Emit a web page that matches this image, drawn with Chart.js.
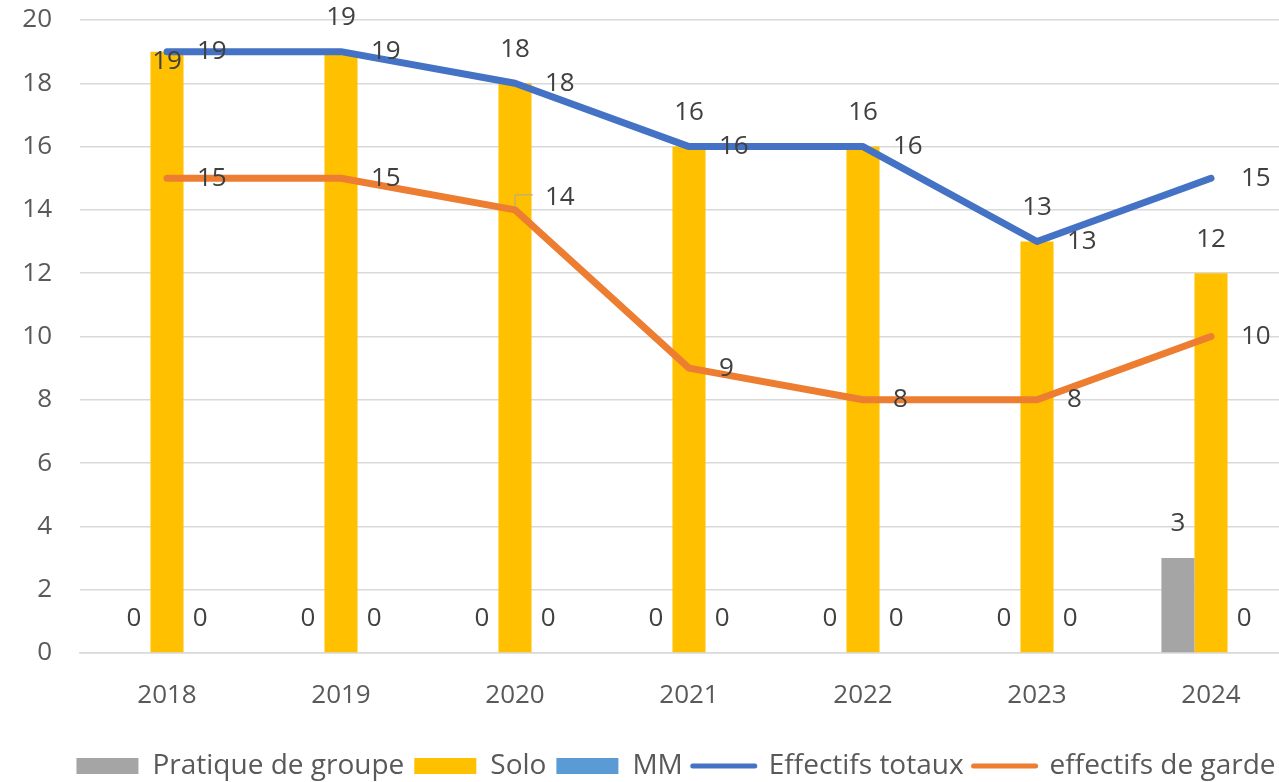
<!DOCTYPE html>
<html>
<head>
<meta charset="utf-8">
<script src="https://cdn.jsdelivr.net/npm/chart.js@4"></script>
<style>
  html, body { margin: 0; padding: 0; background: #fff; overflow: hidden; }
  #wrap { width: 1352px; height: 782px; }
</style>
</head>
<body>
<div id="wrap"><canvas id="effectifsChart"></canvas></div>
<script>
const years = ['2018', '2019', '2020', '2021', '2022', '2023', '2024'];
const pratiqueGroupe = [0, 0, 0, 0, 0, 0, 3];
const solo = [19, 19, 18, 16, 16, 13, 12];
const mm = [0, 0, 0, 0, 0, 0, 0];
const effectifsTotaux = [19, 19, 18, 16, 16, 13, 15];
const effectifsGarde = [15, 15, 14, 9, 8, 8, 10];
const yMin = 0, yMax = 20, yStep = 2;

const FONT = '"Open Sans", "Noto Sans", sans-serif';

// Draws the value labels the way Excel placed them
const valueLabels = {
  id: 'valueLabels',
  afterDatasetsDraw(chart) {
    const ctx = chart.ctx;
    ctx.save();
    ctx.font = '26px ' + FONT;
    ctx.fillStyle = '#404040';
    ctx.textBaseline = 'middle';
    chart.data.datasets.forEach((ds, di) => {
      const meta = chart.getDatasetMeta(di);
      meta.data.forEach((el, i) => {
        const value = ds.data[i];
        if (ds.type === 'line') {
          let y = el.y;
          // this one was nudged up with a leader line
          if (ds.label === 'effectifs de garde' && i === 2) {
            y = el.y - 12;
            ctx.strokeStyle = '#A6A6A6';
            ctx.lineWidth = 1;
            ctx.beginPath();
            ctx.moveTo(el.x, el.y - 3);
            ctx.lineTo(el.x, y - 3);
            ctx.lineTo(el.x + 18, y - 3);
            ctx.stroke();
          }
          ctx.textAlign = 'left';
          ctx.fillText(value, el.x + 30, y);
        } else {
          ctx.textAlign = 'center';
          let y = el.y - 34;
          if (ds.label === 'Solo' && i === 0) y = el.y + 10;
          ctx.fillText(value, el.x, y);
        }
      });
    });
    ctx.restore();
  }
};

const ctx = document.getElementById('effectifsChart').getContext('2d');
new Chart(ctx, {
  type: 'bar',
  data: {
    labels: years,
    datasets: [
      { label: 'Pratique de groupe', data: pratiqueGroupe, backgroundColor: '#A5A5A5', order: 1 },
      { label: 'Solo', data: solo, backgroundColor: '#FFC000', order: 1 },
      { label: 'MM', data: mm, backgroundColor: '#5B9BD5', order: 1 },
      {
        type: 'line', label: 'Effectifs totaux', data: effectifsTotaux,
        borderColor: '#4472C4', backgroundColor: '#4472C4', borderWidth: 7,
        borderCapStyle: 'round', borderJoinStyle: 'round', pointRadius: 0, order: 0
      },
      {
        type: 'line', label: 'effectifs de garde', data: effectifsGarde,
        borderColor: '#ED7D31', backgroundColor: '#ED7D31', borderWidth: 7,
        borderCapStyle: 'round', borderJoinStyle: 'round', pointRadius: 0, order: 0
      }
    ]
  },
  options: {
    responsive: true,
    maintainAspectRatio: false,
    animation: false,
    layout: { padding: { left: 0, right: 0, top: 20, bottom: -8 } },
    datasets: {
      bar: { categoryPercentage: 0.57, barPercentage: 1 }
    },
    plugins: {
      tooltip: { enabled: false },
      legend: {
        position: 'bottom',
        labels: {
          color: '#595959',
          font: { family: FONT, size: 28 },
          usePointStyle: true,
          pointStyleWidth: 62,
          boxHeight: 16,
          padding: 10,
          generateLabels(chart) {
            return chart.data.datasets.map((ds, i) => ({
              text: ds.label,
              fillStyle: ds.backgroundColor,
              strokeStyle: ds.type === 'line' ? ds.borderColor : 'transparent',
              lineWidth: ds.type === 'line' ? 5 : 0,
              lineCap: 'round',
              pointStyle: ds.type === 'line' ? 'line' : 'rect',
              fontColor: '#595959',
              hidden: false,
              datasetIndex: i
            }));
          }
        }
      }
    },
    scales: {
      x: {
        grid: { display: false, drawTicks: false },
        border: { color: '#D9D9D9', width: 1.5 },
        ticks: { color: '#595959', font: { family: FONT, size: 26 }, padding: 27 },
        afterFit: (s) => { s.height = 89; }
      },
      y: {
        min: yMin,
        max: yMax,
        ticks: { stepSize: yStep, color: '#595959', font: { family: FONT, size: 26 }, padding: 28 },
        grid: { color: '#D9D9D9', lineWidth: 1.5, drawTicks: false },
        border: { display: false },
        afterFit: (s) => {
          s.width = 80;
          // tick padding should not push the plot area down
          s.paddingTop = 0;
          s.paddingBottom = 0;
        }
      },
      // empty right axis: the original plot ran past the cropped right edge
      yRight: {
        position: 'right',
        grid: { display: false, drawTicks: false },
        border: { display: false },
        ticks: { display: false },
        afterFit: (s) => { s.width = 54; }
      }
    }
  },
  plugins: [valueLabels]
});
</script>
</body>
</html>
